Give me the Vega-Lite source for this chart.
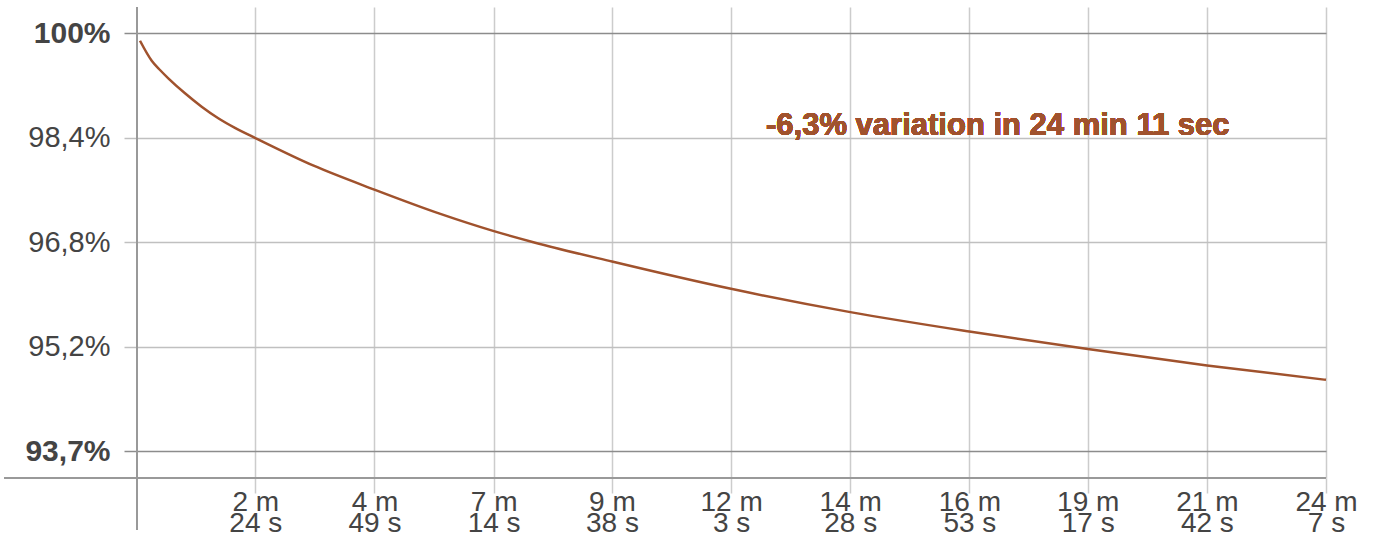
{
  "$schema": "https://vega.github.io/schema/vega-lite/v6.json",
  "width": 1189,
  "height": 471,
  "autosize": {"type": "none"},
  "padding": {"left": 137, "top": 7, "right": 47, "bottom": 55},
  "background": "white",
  "config": {"view": {"stroke": null}, "font": "Liberation Sans"},
  "data": {
    "values": [
      {"t": 3.65, "v": 99.888},
      {"t": 17.9, "v": 99.587},
      {"t": 28.0, "v": 99.447},
      {"t": 38.1, "v": 99.322},
      {"t": 58.4, "v": 99.096},
      {"t": 78.7, "v": 98.894},
      {"t": 98.9, "v": 98.72},
      {"t": 119.2, "v": 98.575},
      {"t": 144.7, "v": 98.418},
      {"t": 215.0, "v": 98.005},
      {"t": 288.9, "v": 97.645},
      {"t": 369.2, "v": 97.279},
      {"t": 433.3, "v": 97.023},
      {"t": 482.4, "v": 96.853},
      {"t": 578.1, "v": 96.561},
      {"t": 722.9, "v": 96.150},
      {"t": 868.1, "v": 95.799},
      {"t": 1012.9, "v": 95.507},
      {"t": 1157.1, "v": 95.243},
      {"t": 1302.2, "v": 94.995},
      {"t": 1447, "v": 94.779}
    ]
  },
  "layer": [
    {
      "mark": {"type": "line", "color": "#a0522d", "strokeWidth": 2.5, "interpolate": "monotone"},
      "encoding": {
        "x": {
          "field": "t", "type": "quantitative",
          "scale": {"domain": [0, 1447], "zero": false, "nice": false},
          "axis": {
            "title": null,
            "values": [144, 289, 434, 578, 723, 868, 1013, 1157, 1302, 1447],
            "labelExpr": "[floor(datum.value/60) + ' m', (datum.value % 60) + ' s']",
            "domain": false,
            "grid": true, "gridColor": "#cccccc", "gridWidth": 1.5,
            "ticks": true, "tickColor": "#cccccc", "tickSize": 15, "tickWidth": 1.5,
            "labelFont": "Liberation Sans", "labelFontSize": 28, "labelColor": "#444444",
            "labelLineHeight": 21.5, "labelPadding": -5,
            "labelFlush": false, "labelOverlap": false, "labelBound": false
          }
        },
        "y": {
          "field": "v", "type": "quantitative",
          "scale": {"domain": [93.3, 100.396], "zero": false, "nice": false},
          "axis": {
            "title": null,
            "values": [93.7, 95.275, 96.85, 98.425, 100],
            "labelExpr": "datum.value > 99.9 ? '100%' : replace(format(floor(datum.value*10+0.000001)/10, '.1f'), '.', ',') + '%'",
            "domain": false,
            "grid": true,
            "gridColor": {"condition": {"test": "datum.value > 99.9 || datum.value < 93.8", "value": "#8c8c8c"}, "value": "#c0c0c0"},
            "gridWidth": 1.5,
            "ticks": true,
            "tickColor": {"condition": {"test": "datum.value > 99.9 || datum.value < 93.8", "value": "#8c8c8c"}, "value": "#c0c0c0"},
            "tickSize": 13, "tickWidth": 1.5,
            "labelFont": "Liberation Sans",
            "labelFontSize": {"condition": {"test": "datum.value > 99.9 || datum.value < 93.8", "value": 30}, "value": 29},
            "labelColor": "#444444",
            "labelFontWeight": {"condition": {"test": "datum.value > 99.9 || datum.value < 93.8", "value": "bold"}, "value": "normal"},
            "labelPadding": 14, "labelOverlap": false, "labelBound": false, "labelFlush": false
          }
        }
      }
    },
    {
      "mark": {"type": "rule", "color": "#999999", "strokeWidth": 2},
      "encoding": {
        "x": {"datum": 0, "type": "quantitative", "scale": {"domain": [0, 1447], "zero": false, "nice": false}},
        "y": {"datum": 92.52, "type": "quantitative", "scale": {"domain": [93.3, 100.396], "zero": false, "nice": false}},
        "y2": {"datum": 100.396}
      }
    },
    {
      "mark": {"type": "rule", "color": "#999999", "strokeWidth": 2},
      "encoding": {
        "x": {"datum": -161, "type": "quantitative", "scale": {"domain": [0, 1447], "zero": false, "nice": false}},
        "x2": {"datum": 1447},
        "y": {"datum": 93.3, "type": "quantitative", "scale": {"domain": [93.3, 100.396], "zero": false, "nice": false}}
      }
    },
    {
      "mark": {"type": "text", "text": "-6,3% variation in 24 min 11 sec", "align": "left", "baseline": "alphabetic", "font": "Liberation Sans", "fontSize": 31, "fontWeight": "bold", "color": "#a0522d"},
      "encoding": {
        "x": {"datum": 765.5, "type": "quantitative", "scale": {"domain": [0, 1447], "zero": false, "nice": false}},
        "y": {"datum": 98.468, "type": "quantitative", "scale": {"domain": [93.3, 100.396], "zero": false, "nice": false}}
      }
    }
  ]
}
